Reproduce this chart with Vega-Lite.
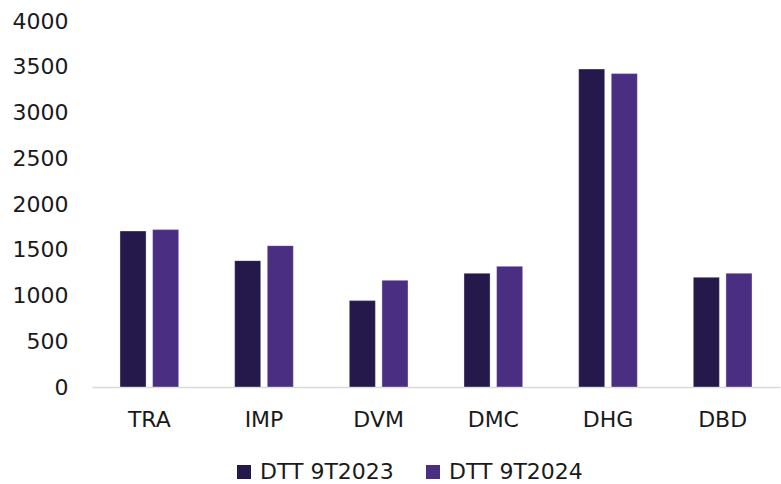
{
  "$schema": "https://vega.github.io/schema/vega-lite/v6.json",
  "width": 688,
  "height": 366,
  "autosize": {"type": "none"},
  "padding": {"left": 92, "top": 21, "right": 1, "bottom": 97},
  "background": "white",
  "config": {
    "view": {"stroke": null},
    "font": "DejaVu Sans",
    "axis": {"labelFont": "DejaVu Sans", "labelFontSize": 22, "labelColor": "#1a1a1a", "grid": false, "ticks": false, "title": null},
    "legend": {"labelFont": "DejaVu Sans", "labelFontSize": 22, "labelColor": "#1a1a1a"}
  },
  "data": {
    "values": [
      {"cat": "TRA", "series": "DTT 9T2023", "value": 1705},
      {"cat": "TRA", "series": "DTT 9T2024", "value": 1720},
      {"cat": "IMP", "series": "DTT 9T2023", "value": 1381},
      {"cat": "IMP", "series": "DTT 9T2024", "value": 1545},
      {"cat": "DVM", "series": "DTT 9T2023", "value": 944},
      {"cat": "DVM", "series": "DTT 9T2024", "value": 1166},
      {"cat": "DMC", "series": "DTT 9T2023", "value": 1243},
      {"cat": "DMC", "series": "DTT 9T2024", "value": 1319},
      {"cat": "DHG", "series": "DTT 9T2023", "value": 3475},
      {"cat": "DHG", "series": "DTT 9T2024", "value": 3425},
      {"cat": "DBD", "series": "DTT 9T2023", "value": 1199},
      {"cat": "DBD", "series": "DTT 9T2024", "value": 1243}
    ]
  },
  "mark": {"type": "bar", "stroke": "#ffffff", "strokeOpacity": 0.35, "strokeWidth": 1},
  "encoding": {
    "x": {
      "field": "cat", "type": "nominal", "sort": null,
      "scale": {"paddingInner": 0.488, "paddingOuter": 0.244},
      "axis": {"labelAngle": 0, "labelPadding": 22, "domainColor": "#d9d9d9", "domainWidth": 1.5}
    },
    "xOffset": {
      "field": "series", "type": "nominal",
      "scale": {"paddingInner": 0.2, "paddingOuter": 0}
    },
    "y": {
      "field": "value", "type": "quantitative",
      "scale": {"domain": [0, 4000], "nice": false},
      "axis": {"values": [0, 500, 1000, 1500, 2000, 2500, 3000, 3500, 4000], "format": "d", "domain": false, "labelPadding": 24}
    },
    "color": {
      "field": "series", "type": "nominal",
      "scale": {"domain": ["DTT 9T2023", "DTT 9T2024"], "range": ["#25184b", "#4a2e82"]},
      "legend": {
        "title": null, "orient": "none", "direction": "horizontal",
        "legendX": 141, "legendY": 440,
        "symbolType": "square", "symbolSize": 196, "symbolStrokeWidth": 0,
        "columnPadding": 28, "labelOffset": 5
      }
    }
  }
}
